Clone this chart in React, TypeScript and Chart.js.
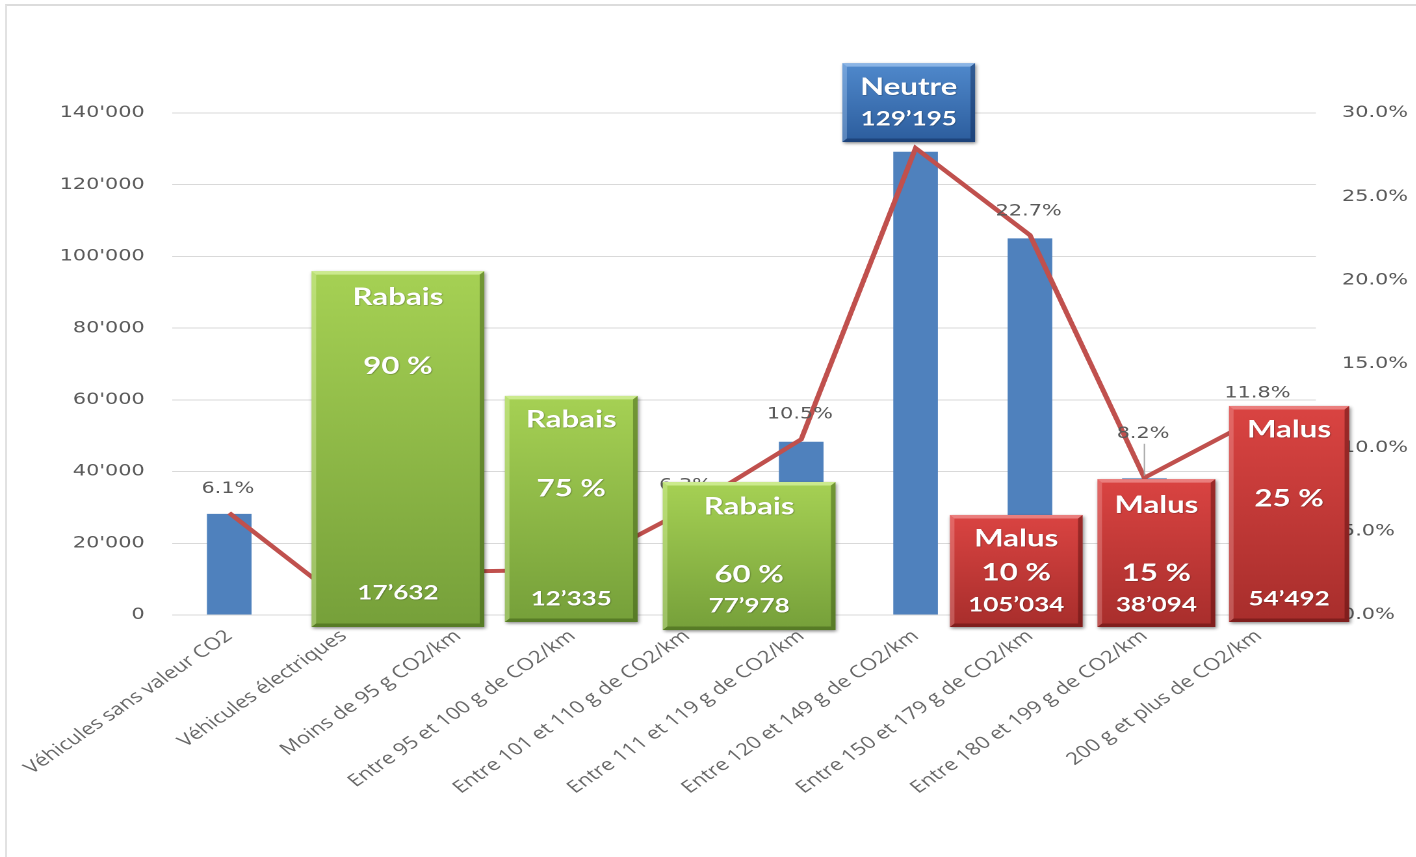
import { useEffect, useRef } from "react";
import { Chart, registerables } from "chart.js";

Chart.register(...registerables);

// ---------- data ----------
const categories = [
  "Véhicules sans valeur CO2",
  "Véhicules électriques",
  "Moins de 95 g CO2/km",
  "Entre 95 et 100 g de CO2/km",
  "Entre 101 et 110 g de CO2/km",
  "Entre 111 et 119 g de CO2/km",
  "Entre 120 et 149 g de CO2/km",
  "Entre 150 et 179 g de CO2/km",
  "Entre 180 et 199 g de CO2/km",
  "200 g et plus de CO2/km",
];
const vehicleCounts = [28200, 3700, 12000, 12335, 29200, 48300, 129195, 105034, 38094, 54492];
const shareOfTotal = [6.1, 0.8, 2.6, 2.7, 6.3, 10.5, 27.9, 22.7, 8.2, 11.8];
const countTickValues = [0, 20000, 40000, 60000, 80000, 100000, 120000, 140000];
const shareTickValues = [0, 5, 10, 15, 20, 25, 30];

// annotation boxes (texts)
const boxKinds = ["rabais", "rabais", "rabais", "neutre", "malus", "malus", "malus"];
const boxTexts = [
  ["Rabais", "90 %", "17’632"],
  ["Rabais", "75 %", "12’335"],
  ["Rabais", "60 %", "77’978"],
  ["Neutre", "129’195"],
  ["Malus", "10 %", "105’034"],
  ["Malus", "15 %", "38’094"],
  ["Malus", "25 %", "54’492"],
];

// ---------- layout (in axis units / px offsets) ----------
const STRETCH = 1.3;
const boxCategorySpan = [
  [0.72, 2.23],
  [2.41, 3.57],
  [3.79, 5.3],
  [5.36, 6.52],
  [6.3, 7.46],
  [7.59, 8.62],
  [8.74, 9.79],
];
const boxValueSpan = [
  [95900, -3350],
  [61100, -1950],
  [37100, -4200],
  [153900, 131900],
  [27900, -3350],
  [37900, -3350],
  [58300, -1950],
];
const boxLineOffsets = [
  [26, 95, -34],
  [24, 93, -23],
  [25, 93, -24],
  [24, 56],
  [24, 58, 90],
  [26, 94, -22],
  [24, 93, -23],
];
const pctLabelLift = [24, 24, 24, 24, 24, 25, 24, 24, 44, 24];

const palettes: Record<string, any> = {
  rabais: { top: "#a6d154", bottom: "#76a03a", light: "rgba(235,255,190,0.55)", dark: "rgba(50,80,15,0.45)" },
  neutre: { top: "#5089cc", bottom: "#2c5d9d", light: "rgba(200,225,255,0.5)", dark: "rgba(10,35,80,0.45)" },
  malus: { top: "#da4442", bottom: "#a82e2c", light: "rgba(255,200,200,0.45)", dark: "rgba(80,10,10,0.45)" },
};

const fmtCount = (v: number) => (v === 0 ? "0" : `${Math.round(v / 1000)}'000`);

function drawBox(ctx: CanvasRenderingContext2D, l: number, t: number, r: number, b: number, kind: string) {
  const pal = palettes[kind];
  ctx.save();
  ctx.shadowColor = "rgba(0,0,0,0.45)";
  ctx.shadowBlur = 6;
  ctx.shadowOffsetX = 2;
  ctx.shadowOffsetY = 3;
  const g = ctx.createLinearGradient(0, t, 0, b);
  g.addColorStop(0, pal.top);
  g.addColorStop(1, pal.bottom);
  ctx.fillStyle = g;
  ctx.fillRect(l, t, r - l, b - t);
  ctx.restore();
  const e = 3.5;
  ctx.save();
  ctx.fillStyle = pal.light;
  ctx.beginPath();
  ctx.moveTo(l, t);
  ctx.lineTo(r, t);
  ctx.lineTo(r - e, t + e);
  ctx.lineTo(l + e, t + e);
  ctx.closePath();
  ctx.fill();
  ctx.globalAlpha = 0.6;
  ctx.beginPath();
  ctx.moveTo(l, t);
  ctx.lineTo(l + e, t + e);
  ctx.lineTo(l + e, b - e);
  ctx.lineTo(l, b);
  ctx.closePath();
  ctx.fill();
  ctx.globalAlpha = 1;
  ctx.fillStyle = pal.dark;
  ctx.beginPath();
  ctx.moveTo(r, t);
  ctx.lineTo(r, b);
  ctx.lineTo(r - e, b - e);
  ctx.lineTo(r - e, t + e);
  ctx.closePath();
  ctx.fill();
  ctx.beginPath();
  ctx.moveTo(l, b);
  ctx.lineTo(r, b);
  ctx.lineTo(r - e, b - e);
  ctx.lineTo(l + e, b - e);
  ctx.closePath();
  ctx.fill();
  ctx.restore();
}

const overlayPlugin = {
  id: "overlay",
  afterDatasetsDraw(chart: any) {
    const ctx: CanvasRenderingContext2D = chart.ctx;
    const x = chart.scales.x;
    const y1 = chart.scales.y1;
    ctx.save();
    ctx.font = '16px "DejaVu Sans"';
    ctx.fillStyle = "#595959";
    ctx.textAlign = "center";
    ctx.textBaseline = "middle";
    shareOfTotal.forEach((v, i) => {
      const px = x.getPixelForValue(i);
      const py = y1.getPixelForValue(v);
      const lift = pctLabelLift[i];
      ctx.fillText(`${v.toFixed(1)}%`, px - 1, py - lift);
      if (lift > 30) {
        ctx.strokeStyle = "#a6a6a6";
        ctx.lineWidth = 1;
        ctx.beginPath();
        ctx.moveTo(px, py - lift + 10);
        ctx.lineTo(px, py - 2);
        ctx.stroke();
      }
    });
    ctx.restore();
  },
  afterDraw(chart: any) {
    const ctx: CanvasRenderingContext2D = chart.ctx;
    const x = chart.scales.x;
    const y = chart.scales.y;
    const n = categories.length;
    const catPx = (v: number) => x.getPixelForDecimal((v + 0.5) / n);
    boxTexts.forEach((lines, i) => {
      const l = catPx(boxCategorySpan[i][0]);
      const r = catPx(boxCategorySpan[i][1]);
      const t = y.getPixelForValue(boxValueSpan[i][0]);
      const b = y.getPixelForValue(boxValueSpan[i][1]);
      drawBox(ctx, l, t, r, b, boxKinds[i]);
      ctx.save();
      ctx.fillStyle = "#ffffff";
      ctx.textAlign = "center";
      ctx.textBaseline = "middle";
      ctx.shadowColor = "rgba(0,0,0,0.35)";
      ctx.shadowBlur = 2;
      ctx.shadowOffsetX = 1;
      ctx.shadowOffsetY = 1;
      lines.forEach((txt, k) => {
        const off = boxLineOffsets[i][k];
        const ty = off >= 0 ? t + off : b + off;
        const isNum = /^[\d’]+$/.test(txt);
        ctx.font = `bold ${isNum ? 20 : 24}px Lato`;
        ctx.fillText(txt, (l + r) / 2, ty);
      });
      ctx.restore();
    });
  },
};

export default function App() {
  const ref = useRef<HTMLCanvasElement>(null);
  const W = 1416 / STRETCH;
  useEffect(() => {
    const canvas = ref.current!;
    const plotLeft = 172 / STRETCH;
    const plotRight = 1316 / STRETCH;
    const tickFont = { family: "DejaVu Sans", size: 16 };
    const chart = new Chart(canvas, {
      data: {
        labels: categories,
        datasets: [
          {
            type: "line",
            data: shareOfTotal,
            yAxisID: "y1",
            borderColor: "#C0504D",
            borderWidth: 4,
            pointRadius: 0,
            tension: 0,
            order: 0,
          } as any,
          {
            type: "bar",
            data: vehicleCounts,
            yAxisID: "y",
            backgroundColor: "#4F81BD",
            barPercentage: 0.39,
            categoryPercentage: 1,
            order: 1,
          } as any,
        ],
      },
      options: {
        animation: false,
        responsive: true,
        maintainAspectRatio: false,
        devicePixelRatio: 2,
        layout: { padding: { left: 0, right: 0, top: 113, bottom: 0 } },
        plugins: { legend: { display: false }, tooltip: { enabled: false } },
        scales: {
          x: {
            grid: { display: false },
            border: { display: false },
            ticks: {
              autoSkip: false,
              minRotation: 41.5,
              maxRotation: 41.5,
              color: "#666666",
              font: { family: "Open Sans", size: 17 },
              padding: 3,
            },
            afterFit: (s: any) => {
              s.height = 857 - 615;
            },
          },
          y: {
            position: "left",
            min: 0,
            max: 140000,
            afterBuildTicks: (s: any) => {
              s.ticks = countTickValues.map((v) => ({ value: v }));
            },
            ticks: {
              callback: (v: any) => fmtCount(Number(v)),
              color: "#595959",
              font: tickFont,
              padding: 21,
            },
            grid: { color: "#d9d9d9", drawTicks: false, lineWidth: 1 },
            border: { display: false },
            afterFit: (s: any) => {
              s.width = plotLeft;
            },
          },
          y1: {
            position: "right",
            min: 0,
            max: 30,
            afterBuildTicks: (s: any) => {
              s.ticks = shareTickValues.map((v) => ({ value: v }));
            },
            ticks: {
              callback: (v: any) => `${Number(v).toFixed(1)}%`,
              color: "#595959",
              font: tickFont,
              padding: 20,
            },
            grid: { display: false, drawTicks: false },
            border: { display: false },
            afterFit: (s: any) => {
              s.width = W - plotRight;
            },
          },
        },
      } as any,
      plugins: [overlayPlugin],
    });
    return () => chart.destroy();
  }, []);

  return (
    <div style={{ position: "fixed", left: 0, top: 0, width: 1416, height: 857, background: "#fff", overflow: "hidden" }}>
      <div
        style={{
          position: "absolute",
          left: 5,
          top: 4,
          right: -4,
          bottom: -4,
          borderTop: "2px solid #dcdcdc",
          borderLeft: "2px solid #e2e2e2",
        }}
      />
      <div
        style={{
          position: "absolute",
          left: 0,
          top: 0,
          width: W,
          height: 857,
          transform: `scaleX(${STRETCH})`,
          transformOrigin: "0 0",
        }}
      >
        <canvas ref={ref} />
      </div>
    </div>
  );
}
